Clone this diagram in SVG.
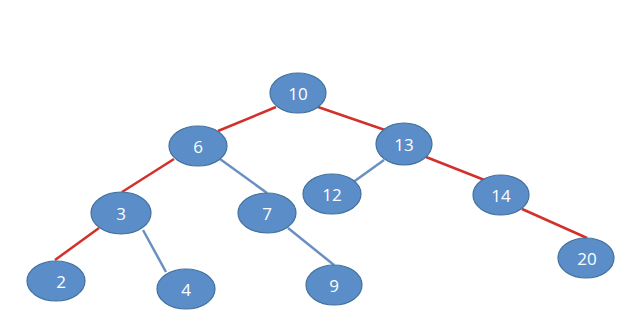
<svg xmlns="http://www.w3.org/2000/svg" width="640" height="329" viewBox="0 0 640 329">
  <style>
    .node ellipse { fill: #5b8dc8; stroke: #41719c; stroke-width: 1.2; }
    .node text { fill: #ffffff; font-family: "Open Sans", "Liberation Sans", sans-serif; font-size: 17px; text-anchor: middle; dominant-baseline: central; }
    .red { stroke: #d2312b; stroke-width: 2.5; }
    .blue { stroke: #6a90c2; stroke-width: 2.5; }
  </style>
  <rect width="640" height="329" fill="#ffffff"/>
  <g id="connectors" fill="none">
    <line class="red" x1="276" y1="107" x2="218" y2="131"/>
    <line class="red" x1="318" y1="107" x2="385" y2="130"/>
    <line class="red" x1="174" y1="159" x2="122" y2="192"/>
    <line class="blue" x1="220" y1="159" x2="267" y2="193"/>
    <line class="red" x1="99" y1="228" x2="55" y2="260"/>
    <line class="blue" x1="143" y1="230" x2="166" y2="272"/>
    <line class="blue" x1="288" y1="228" x2="334" y2="265"/>
    <line class="blue" x1="384" y1="160" x2="352" y2="183"/>
    <line class="red" x1="426" y1="157" x2="487" y2="181"/>
    <line class="red" x1="522" y1="209" x2="587" y2="238"/>
  </g>
  <g id="n10" class="node"><ellipse cx="298" cy="93" rx="28" ry="20"/><text x="298" y="93">10</text></g>
  <g id="n6" class="node"><ellipse cx="198" cy="146" rx="29" ry="20"/><text x="198" y="146">6</text></g>
  <g id="n13" class="node"><ellipse cx="404" cy="144" rx="28" ry="21"/><text x="404" y="144">13</text></g>
  <g id="n3" class="node"><ellipse cx="121" cy="213" rx="30" ry="21"/><text x="121" y="213">3</text></g>
  <g id="n7" class="node"><ellipse cx="267" cy="213" rx="29" ry="20"/><text x="267" y="213">7</text></g>
  <g id="n12" class="node"><ellipse cx="332" cy="194" rx="29" ry="20"/><text x="332" y="194">12</text></g>
  <g id="n14" class="node"><ellipse cx="501" cy="195" rx="28" ry="20"/><text x="501" y="195">14</text></g>
  <g id="n2" class="node"><ellipse cx="56" cy="281" rx="29" ry="20"/><text x="61" y="281">2</text></g>
  <g id="n4" class="node"><ellipse cx="186" cy="289" rx="29" ry="20"/><text x="186" y="289">4</text></g>
  <g id="n9" class="node"><ellipse cx="334" cy="285" rx="28" ry="20"/><text x="334" y="285">9</text></g>
  <g id="n20" class="node"><ellipse cx="586" cy="258" rx="28" ry="20"/><text x="587" y="258">20</text></g>
</svg>
